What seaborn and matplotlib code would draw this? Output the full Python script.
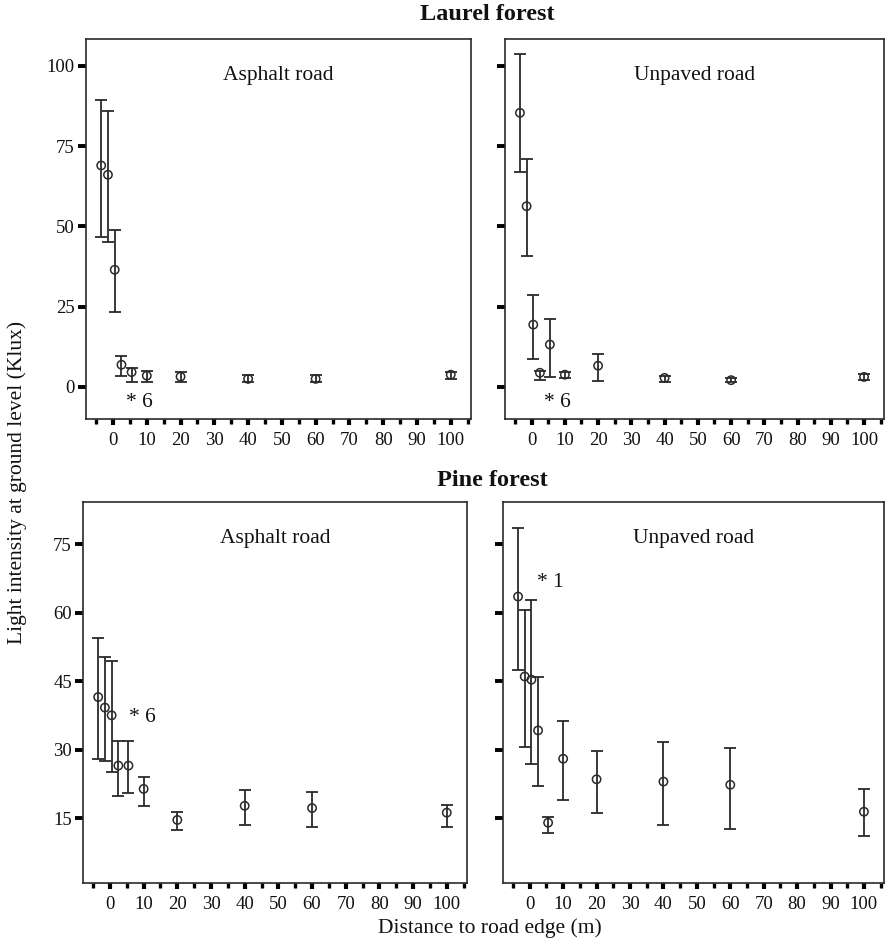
import numpy as np
import pandas as pd
import matplotlib
matplotlib.use("Agg")
import matplotlib.pyplot as plt
import seaborn as sns
from matplotlib.ticker import FixedLocator

# ---------------- data ----------------
distance = [-3.5, -1.5, 0.5, 2.5, 5.5, 10, 20, 40, 60, 100]

laurel_asphalt_mean = [69.0, 66.1, 36.5, 6.9, 4.6, 3.5, 3.2, 2.5, 2.5, 3.8]
laurel_asphalt_low = [46.7, 45.0, 23.4, 3.3, 1.6, 1.6, 1.4, 1.4, 1.4, 2.6]
laurel_asphalt_high = [89.3, 85.9, 49.0, 9.5, 5.8, 4.9, 4.8, 3.8, 3.8, 4.6]

laurel_unpaved_mean = [85.4, 56.3, 19.4, 4.4, 13.2, 3.8, 6.6, 2.8, 2.1, 3.1]
laurel_unpaved_low = [66.9, 40.7, 8.7, 2.3, 3.1, 2.8, 1.7, 1.4, 1.4, 2.1]
laurel_unpaved_high = [103.7, 71.1, 28.5, 4.9, 21.2, 4.6, 10.3, 3.5, 2.8, 4.1]

pine_asphalt_mean = [41.5, 39.2, 37.5, 26.5, 26.5, 21.4, 14.6, 17.7, 17.2, 16.2]
pine_asphalt_low = [28.0, 27.4, 25.0, 19.9, 20.5, 17.7, 12.4, 13.4, 13.1, 13.1]
pine_asphalt_high = [54.4, 50.3, 49.3, 31.9, 31.9, 24.1, 16.4, 21.2, 20.7, 17.9]

pine_unpaved_mean = [63.5, 46.0, 45.3, 34.2, 14.0, 28.0, 23.5, 23.0, 22.3, 16.4]
pine_unpaved_low = [47.5, 30.5, 26.8, 22.1, 11.7, 18.9, 16.1, 13.4, 12.7, 11.1]
pine_unpaved_high = [78.5, 60.5, 62.8, 45.9, 15.3, 36.3, 29.7, 31.6, 30.3, 21.3]

forests = ["Laurel forest", "Pine forest"]
roads = ["Asphalt road", "Unpaved road"]
x_ticks = [0, 10, 20, 30, 40, 50, 60, 70, 80, 90, 100]
laurel_yticks = [0, 25, 50, 75, 100]
pine_yticks = [15, 30, 45, 60, 75]
annotations = ["* 6", "* 6", "* 6", "* 1"]

# ---------------- style ----------------
sns.set_style("ticks")
plt.rcParams["font.family"] = ["Liberation Serif", "DejaVu Serif"]
ink = "#2a2a2a"

fig = plt.figure(figsize=(8.88, 9.43), dpi=100)
W, H = 888.0, 943.0

def box(l, r, t, b):
    return [l / W, 1 - b / H, (r - l) / W, (b - t) / H]

axes_px = {
    (0, 0): (86, 471, 39, 419),
    (0, 1): (505, 884, 39, 419),
    (1, 0): (83, 467, 502, 883),
    (1, 1): (503, 884, 502, 883),
}

panels = {
    (0, 0): (laurel_asphalt_mean, laurel_asphalt_low, laurel_asphalt_high),
    (0, 1): (laurel_unpaved_mean, laurel_unpaved_low, laurel_unpaved_high),
    (1, 0): (pine_asphalt_mean, pine_asphalt_low, pine_asphalt_high),
    (1, 1): (pine_unpaved_mean, pine_unpaved_low, pine_unpaved_high),
}

ann_pos = {(0, 0): (7.8, -5.0), (0, 1): (7.8, -4.8), (1, 0): (9.6, 37.0), (1, 1): (6.2, 66.5)}
ann_text = dict(zip([(0, 0), (0, 1), (1, 0), (1, 1)], annotations))

for (r, c), (mean, low, high) in panels.items():
    ax = fig.add_axes(box(*axes_px[(r, c)]))
    df = pd.DataFrame({"distance": distance, "mean": mean, "low": low, "high": high})
    yerr = np.vstack([df["mean"] - df["low"], df["high"] - df["mean"]])
    ax.errorbar(df["distance"], df["mean"], yerr=yerr, fmt="none", ecolor=ink,
                elinewidth=1.3, capsize=4.5, capthick=1.3, zorder=2)
    sns.scatterplot(data=df, x="distance", y="mean", ax=ax, marker="o", s=36,
                    facecolors="none", edgecolor=ink, linewidth=1.1, zorder=3,
                    legend=False)
    ax.set_xlim(-8, 106)
    if r == 0:
        ax.set_ylim(-10, 108.4)
        ax.yaxis.set_major_locator(FixedLocator(laurel_yticks))
    else:
        ax.set_ylim(0.8, 84.2)
        ax.yaxis.set_major_locator(FixedLocator(pine_yticks))
    ax.xaxis.set_major_locator(FixedLocator(x_ticks))
    ax.xaxis.set_minor_locator(FixedLocator(np.arange(-5, 106, 10)))
    ax.set_xticklabels([str(t) for t in x_ticks])
    ax.set_xlabel("")
    ax.set_ylabel("")
    for sp in ax.spines.values():
        sp.set_linewidth(1.2)
        sp.set_color(ink)
    ax.tick_params(axis="y", which="major", length=6, width=2.8, color="black",
                   labelsize=13.5, pad=2, labelcolor="#111")
    ax.tick_params(axis="x", which="major", length=4.5, width=3.0, color="black",
                   labelsize=13.5, pad=5, labelcolor="#111")
    ax.tick_params(axis="x", which="minor", length=3.5, width=2.4, color="black")
    if c == 1:
        ax.tick_params(axis="y", labelleft=False)
    ax.text(0.5, 0.905, roads[c], transform=ax.transAxes, ha="center",
            va="center", fontsize=15.5, color="#111")
    ax_x, ax_y = ann_pos[(r, c)]
    ax.text(ax_x, ax_y, ann_text[(r, c)], ha="center", va="center",
            fontsize=15.5, color="#111")

fig.text(487 / W, 1 - 15 / H, forests[0], ha="center", va="center",
         fontsize=17.5, fontweight="bold", color="#111")
fig.text(492 / W, 1 - 481 / H, forests[1], ha="center", va="center",
         fontsize=17.5, fontweight="bold", color="#111")
fig.text(490 / W, 1 - 928 / H, "Distance to road edge (m)", ha="center",
         va="center", fontsize=15.5, color="#111")
fig.text(17 / W, 1 - 482 / H, "Light intensity at ground level (Klux)",
         ha="center", va="center", rotation=90, fontsize=15.5, color="#111")

fig.savefig("out.png", dpi=100)
